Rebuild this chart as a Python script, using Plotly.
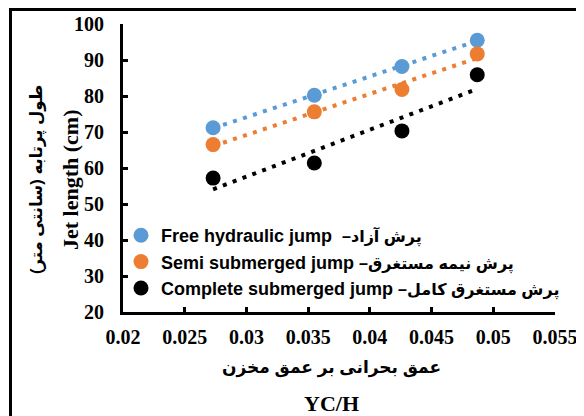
import numpy as np
import plotly.graph_objects as go

# ---- data ----
yc_h = [0.0273, 0.0355, 0.0426, 0.0487]
free_jump = [71.2, 80.2, 88.2, 95.5]
semi_jump = [66.5, 75.6, 81.8, 91.7]
complete_jump = [57.2, 61.4, 70.3, 85.9]

series_en = ["Free hydraulic jump  ", "Semi submerged jump ", "Complete submerged jump "]
series_fa = ["\u2013پرش آزاد", "\u2013پرش نیمه مستغرق", "\u2013پرش مستغرق کامل"]
series_values = [free_jump, semi_jump, complete_jump]
series_colors = ["#5B9BD5", "#ED7D31", "#000000"]

x_ticks = [0.02, 0.025, 0.03, 0.035, 0.04, 0.045, 0.05, 0.055]
x_ticklabels = ["0.02", "0.025", "0.03", "0.035", "0.04", "0.045", "0.05", "0.055"]
y_ticks = [20, 30, 40, 50, 60, 70, 80, 90, 100]
y_ticklabels = ["20", "30", "40", "50", "60", "70", "80", "90", "100"]

y_title_fa = "طول پرتابه (سانتی متر)"
y_title_en = "Jet length (cm)"
x_title_fa = "عمق بحرانی بر عمق مخزن"
x_title_en = "YC/H"

SERIF = "Liberation Serif"
SANS = "Liberation Sans, DejaVu Sans"

fig = go.Figure()

# trendlines (linear fit)
xs = np.array(yc_h)
for vals, col in zip(series_values, series_colors):
    m, b = np.polyfit(xs, np.array(vals), 1)
    xl = np.array([xs.min(), xs.max()])
    fig.add_trace(go.Scatter(
        x=xl, y=m * xl + b, mode="lines",
        line=dict(color=col, width=4, dash="4px,6.5px"),
        showlegend=False, hoverinfo="skip"))

# markers
for i, (en, fa, vals, col) in enumerate(zip(series_en, series_fa, series_values, series_colors)):
    fig.add_trace(go.Scatter(
        x=yc_h, y=vals, mode="markers",
        name=f"<b>{en}</b><span style=\"font-size:16px\"><b>{fa}</b></span>",
        marker=dict(color=col, size=15),
        legendgroup=f"g{i}"))

# page has an 8px body margin: figure is placed at (8, 8)
OFF = 8
W, H = 584 - OFF, 416 - OFF
PL, PR, PT, PB = 123, 555, 24, 312          # plot area in page pixels
L, R, T, B = PL - OFF, 584 - PR, PT - OFF, 416 - PB
pw, ph = PR - PL, PB - PT

def px_x(p):
    return (p - PL) / pw

def px_y(p):
    return (PB - p) / ph

fig.update_layout(
    width=W, height=H,
    margin=dict(l=L, r=R, t=T, b=B, autoexpand=False),
    paper_bgcolor="white", plot_bgcolor="white",
    showlegend=True,
    legend=dict(
        x=px_x(121), y=px_y(217), xanchor="left", yanchor="top",
        bgcolor="rgba(0,0,0,0)",
        font=dict(family=SANS, size=18, color="black", weight="bold"),
        tracegroupgap=0, itemsizing="trace",
    ),
    xaxis=dict(
        range=[0.02, 0.055], tickvals=x_ticks,
        ticktext=[f"<b>{t}</b>" for t in x_ticklabels],
        showgrid=False, zeroline=False,
        showline=True, linecolor="black", linewidth=3,
        ticks="inside", ticklen=5, tickwidth=3, tickcolor="black",
        ticklabelstandoff=5,
        tickfont=dict(family=SERIF, size=20, color="black", weight="bold"),
    ),
    yaxis=dict(
        range=[20, 100], tickvals=y_ticks,
        ticktext=[f"<b>{t}</b>" for t in y_ticklabels],
        showgrid=False, zeroline=False,
        showline=True, linecolor="black", linewidth=3,
        ticks="inside", ticklen=5, tickwidth=3, tickcolor="black",
        ticklabelstandoff=12,
        tickfont=dict(family=SERIF, size=20, color="black", weight="bold"),
    ),
    annotations=[
        dict(text=f"<b>{y_title_fa}</b>", xref="paper", yref="paper",
             x=px_x(37), y=px_y(180), textangle=-90, showarrow=False,
             xanchor="center", yanchor="middle",
             font=dict(family=SANS, size=16.5, color="black", weight="bold")),
        dict(text=f"<b>{y_title_en}</b>", xref="paper", yref="paper",
             x=px_x(70), y=px_y(180), textangle=-90, showarrow=False,
             xanchor="center", yanchor="middle",
             font=dict(family=SERIF, size=22, color="black", weight="bold")),
        dict(text=f"<b>{x_title_fa}</b>", xref="paper", yref="paper",
             x=px_x(331), y=px_y(368), showarrow=False,
             xanchor="center", yanchor="middle",
             font=dict(family=SANS, size=17, color="black", weight="bold")),
        dict(text=f"<b>{x_title_en}</b>", xref="paper", yref="paper",
             x=px_x(331), y=px_y(403), showarrow=False,
             xanchor="center", yanchor="middle",
             font=dict(family=SERIF, size=22, color="black", weight="bold")),
    ],
    shapes=[
        dict(type="line", xref="paper", yref="paper",
             x0=px_x(10.5), x1=px_x(10.5), y0=px_y(9), y1=px_y(430),
             line=dict(color="black", width=3)),
        dict(type="line", xref="paper", yref="paper",
             x0=px_x(9), x1=px_x(600), y0=px_y(9.5), y1=px_y(9.5),
             line=dict(color="black", width=3)),
    ],
)

fig.write_html("out.html")
